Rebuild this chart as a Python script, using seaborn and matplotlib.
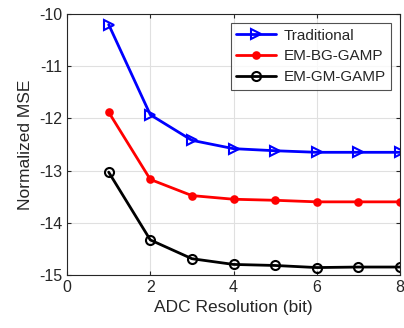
import numpy as np
import pandas as pd
import seaborn as sns
import matplotlib
matplotlib.use('Agg')
import matplotlib.pyplot as plt

bits = [1, 2, 3, 4, 5, 6, 7, 8]
traditional = [-10.20, -11.93, -12.42, -12.58, -12.62, -12.65, -12.65, -12.65]
em_bg_gamp = [-11.88, -13.17, -13.48, -13.55, -13.57, -13.60, -13.60, -13.60]
em_gm_gamp = [-13.03, -14.33, -14.69, -14.80, -14.82, -14.86, -14.85, -14.85]
series_names = ['Traditional', 'EM-BG-GAMP', 'EM-GM-GAMP']

df = pd.DataFrame({
    'bit': bits * 3,
    'mse': traditional + em_bg_gamp + em_gm_gamp,
    'method': [n for n in series_names for _ in bits],
})

sns.set_style('whitegrid')
plt.rcParams['font.family'] = ['Liberation Sans', 'DejaVu Sans']
plt.rcParams['axes.unicode_minus'] = False

fig = plt.figure(figsize=(4.04, 3.28), dpi=100)
ax = fig.add_axes([0.166, 0.162, 0.824, 0.795])

styles = {
    'Traditional': dict(color='blue', marker='>', mfc='none', ms=7.5, mew=1.5),
    'EM-BG-GAMP': dict(color='red', marker='o', mfc='red', ms=5, mew=1.2),
    'EM-GM-GAMP': dict(color='black', marker='o', mfc='none', ms=6.5, mew=1.5),
}
for name in series_names:
    sub = df[df['method'] == name]
    st = styles[name]
    sns.lineplot(data=sub, x='bit', y='mse', ax=ax, color=st['color'], lw=2,
                 marker=st['marker'], markersize=st['ms'], markerfacecolor=st['mfc'],
                 markeredgecolor=st['color'], markeredgewidth=st['mew'], label=name)

ax.set_xlim(0, 8)
ax.set_ylim(-15, -10)
ax.set_xticks([0, 2, 4, 6, 8])
ax.set_yticks([-15, -14, -13, -12, -11, -10])
ax.grid(True, color='#e0e0e0', lw=0.8)
for sp in ax.spines.values():
    sp.set_visible(True)
    sp.set_color('#262626')
    sp.set_linewidth(0.8)
ax.tick_params(direction='in', length=3, labelsize=11.5, colors='#262626',
               left=True, bottom=True, top=True, right=True, labeltop=False, labelright=False)
ax.set_xlabel('ADC Resolution (bit)', fontsize=12.5, color='#262626')
ax.set_ylabel('Normalized MSE', fontsize=12.5, color='#262626')

leg = ax.legend(loc='upper right', fontsize=11, frameon=True, fancybox=False,
                edgecolor='#262626', handlelength=2.6, borderpad=0.35,
                labelspacing=0.45, handletextpad=0.5, borderaxespad=0.6)
leg.get_frame().set_linewidth(0.8)

fig.savefig('out.png', dpi=100)
